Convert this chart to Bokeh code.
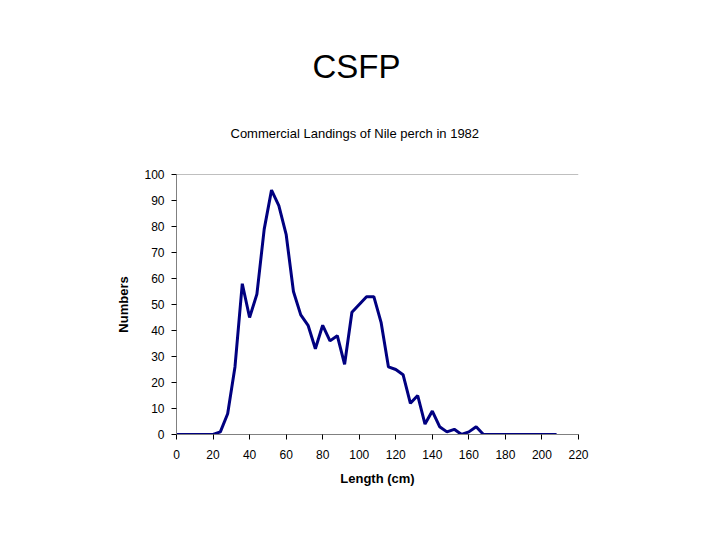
from bokeh.plotting import figure
from bokeh.models import Title, Range1d, SingleIntervalTicker, Span
from bokeh.embed import file_html
from bokeh.resources import INLINE

# Data: length class (cm) and number of fish landed
length_cm = [0, 4, 8, 12, 16, 20, 24, 28, 32, 36, 40, 44, 48, 52, 56, 60, 64,
             68, 72, 76, 80, 84, 88, 92, 96, 100, 104, 108, 112, 116, 120,
             124, 128, 132, 136, 140, 144, 148, 152, 156, 160, 164, 168,
             172, 176, 180, 184, 188, 192, 196, 200, 204, 208]
numbers = [0, 0, 0, 0, 0, 0, 1, 8, 26, 58, 45, 54, 79, 94, 88, 77, 55,
           46, 42, 33, 42, 36, 38, 27, 47, 50, 53, 53, 43, 26, 25,
           23, 12, 15, 4, 9, 3, 1, 2, 0, 1, 3, 0,
           0, 0, 0, 0, 0, 0, 0, 0, 0, 0]

title_text = "CSFP"
subtitle_text = "Commercial Landings of Nile perch in 1982"
x_label = "Length (cm)"
y_label = "Numbers"

FONT = "Liberation Sans"
GRAY = "#808080"

p = figure(width=704, height=524, output_backend="svg", toolbar_location=None,
           x_range=Range1d(0, 220), y_range=Range1d(0, 100),
           min_border_left=176, min_border_right=126,
           min_border_top=174, min_border_bottom=90)

p.outline_line_color = None
p.background_fill_color = "white"
p.border_fill_color = "white"
p.xgrid.visible = False
p.ygrid.visible = False

p.line(length_cm, numbers, line_color="#000080", line_width=3)

# top frame line
p.add_layout(Span(location=100, dimension="width", line_color=GRAY, line_width=1))

for ax in (p.xaxis[0], p.yaxis[0]):
    ax.axis_line_color = GRAY
    ax.major_tick_line_color = "black"
    ax.minor_tick_line_color = None
    ax.major_tick_out = 5
    ax.major_tick_in = 0
    ax.major_label_text_font = FONT
    ax.major_label_text_font_size = "12px"
    ax.major_label_text_color = "black"
    ax.axis_label_text_font = FONT
    ax.axis_label_text_font_style = "bold"
    ax.axis_label_text_font_size = "13px"
    ax.axis_label_text_color = "black"

p.xaxis.ticker = SingleIntervalTicker(interval=20)
p.yaxis.ticker = SingleIntervalTicker(interval=10)
p.xaxis.axis_label = x_label
p.yaxis.axis_label = y_label
p.xaxis.major_label_standoff = 10
p.yaxis.major_label_standoff = 7
p.xaxis.axis_label_standoff = 9
p.yaxis.axis_label_standoff = 10

p.add_layout(Title(text=subtitle_text, align="left", offset=54, standoff=68,
                   text_font=FONT, text_font_size="13px",
                   text_font_style="normal", text_color="black"), "above")
p.add_layout(Title(text=title_text, align="left", offset=136, standoff=10,
                   text_font=FONT, text_font_size="33px",
                   text_font_style="normal", text_color="black"), "above")

open("out.html", "w").write(file_html(p, INLINE))
